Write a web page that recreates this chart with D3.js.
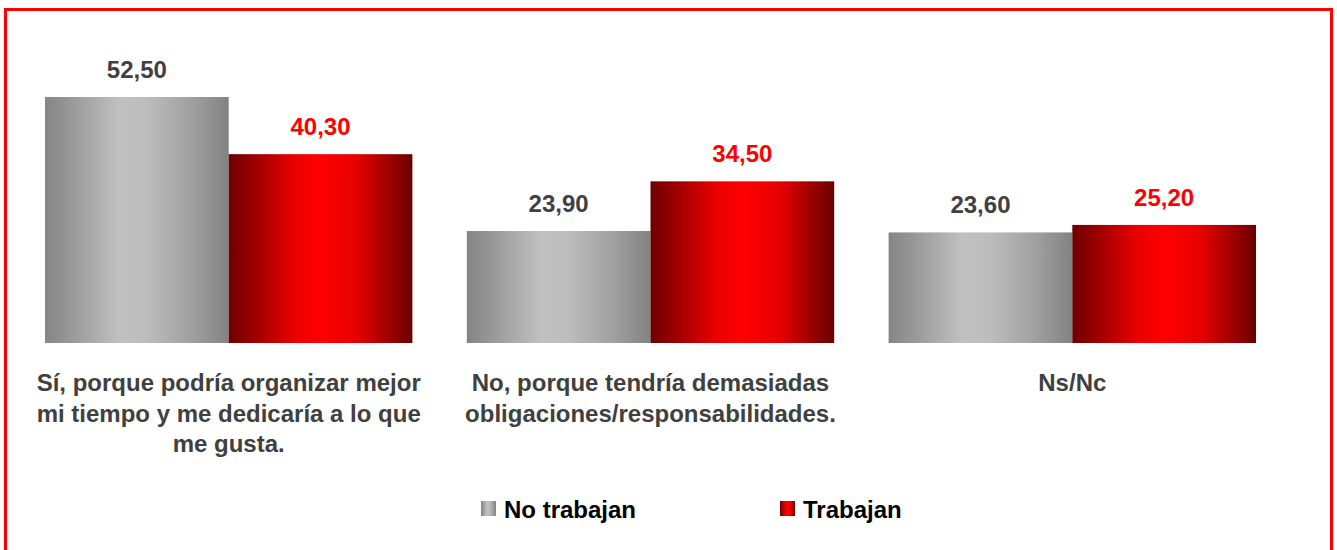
<!DOCTYPE html>
<html>
<head>
<meta charset="utf-8">
<script src="https://cdn.jsdelivr.net/npm/d3@7"></script>
<style>
  body { margin: 0; background: #fff; }
  text { font-family: "Liberation Sans", Arial, sans-serif; font-weight: bold; }
</style>
</head>
<body>
<div class="chart"></div>
<script>
// categories (one array of lines per label) and the two series
const categories = ["si", "no", "nsnc"];
const categoryLines = [
    ["Sí, porque podría organizar mejor", "mi tiempo y me dedicaría a lo que", "me gusta."],
    ["No, porque tendría demasiadas", "obligaciones/responsabilidades."],
    ["Ns/Nc"]
];
const seriesNames = ["No trabajan", "Trabajan"];
const noTrabajan = [52.5, 23.9, 23.6];
const trabajan = [40.3, 34.5, 25.2];

const width = 1337, height = 550;
const baseY = 343;

const svg = d3.select(".chart").append("svg")
    .attr("width", width)
    .attr("height", height);

const defs = svg.append("defs");

// gray metallic gradient
const gGray = defs.append("linearGradient").attr("id", "gradGray");
[[0, "#858585"], [0.12, "#959595"], [0.4, "#c0c0c0"], [0.55, "#bdbdbd"], [0.8, "#a0a0a0"], [1, "#828282"]]
    .forEach(s => gGray.append("stop").attr("offset", s[0]).attr("stop-color", s[1]));

// red gradient
const gRed = defs.append("linearGradient").attr("id", "gradRed");
[[0, "#6e0000"], [0.15, "#a00000"], [0.35, "#e80000"], [0.5, "#ff0000"], [0.7, "#e60000"], [0.85, "#a80000"], [1, "#6a0000"]]
    .forEach(s => gRed.append("stop").attr("offset", s[0]).attr("stop-color", s[1]));

const fills = ["url(#gradGray)", "url(#gradRed)"];
const labelColors = ["#404040", "#ff0000"];

// outer border
svg.append("rect")
    .attr("x", 5.5).attr("y", 9.5)
    .attr("width", 1326).attr("height", 600)
    .attr("fill", "none")
    .attr("stroke", "#ff0000")
    .attr("stroke-width", 3);

const x0 = d3.scaleBand()
    .domain(categories)
    .range([45, 1256])
    .paddingInner(0.129)
    .paddingOuter(0);

const x1 = d3.scaleBand()
    .domain(seriesNames)
    .range([0, x0.bandwidth()]);

const y = d3.scaleLinear()
    .domain([0, 52.5])
    .range([baseY, 97]);

const rows = categories.map((c, i) => ({
    cat: c,
    values: [noTrabajan[i], trabajan[i]]
}));

const groups = svg.selectAll(".group")
    .data(rows)
    .join("g")
    .attr("class", "group")
    .attr("transform", d => `translate(${x0(d.cat)},0)`);

groups.selectAll("rect")
    .data(d => d.values.map((v, j) => ({ name: seriesNames[j], v: v, j: j })))
    .join("rect")
    .attr("x", d => x1(d.name))
    .attr("y", d => y(d.v))
    .attr("width", x1.bandwidth())
    .attr("height", d => baseY - y(d.v))
    .attr("fill", d => fills[d.j]);

// value labels
groups.selectAll(".val")
    .data(d => d.values.map((v, j) => ({ name: seriesNames[j], v: v, j: j })))
    .join("text")
    .attr("class", "val")
    .attr("x", d => x1(d.name) + x1.bandwidth() / 2)
    .attr("y", d => y(d.v) - 19)
    .attr("text-anchor", "middle")
    .attr("font-size", 24)
    .attr("fill", d => labelColors[d.j])
    .text(d => d3.format(".2f")(d.v).replace(".", ","));

// category labels
groups.append("text")
    .attr("x", x0.bandwidth() / 2)
    .attr("y", 391)
    .attr("text-anchor", "middle")
    .attr("font-size", 24)
    .attr("fill", "#404040")
    .selectAll("tspan")
    .data((d, i) => categoryLines[i])
    .join("tspan")
    .attr("x", x0.bandwidth() / 2)
    .attr("dy", (d, i) => i === 0 ? 0 : 30.5)
    .text(d => d);

// legend
const legendX = [481, 780];
const legend = svg.selectAll(".legend")
    .data(seriesNames)
    .join("g")
    .attr("class", "legend")
    .attr("transform", (d, i) => `translate(${legendX[i]},501)`);

legend.append("rect")
    .attr("width", 15).attr("height", 15)
    .attr("fill", (d, i) => fills[i]);

legend.append("text")
    .attr("x", 23)
    .attr("y", 17)
    .attr("font-size", 24)
    .attr("fill", "#000")
    .text(d => d);
</script>
</body>
</html>
